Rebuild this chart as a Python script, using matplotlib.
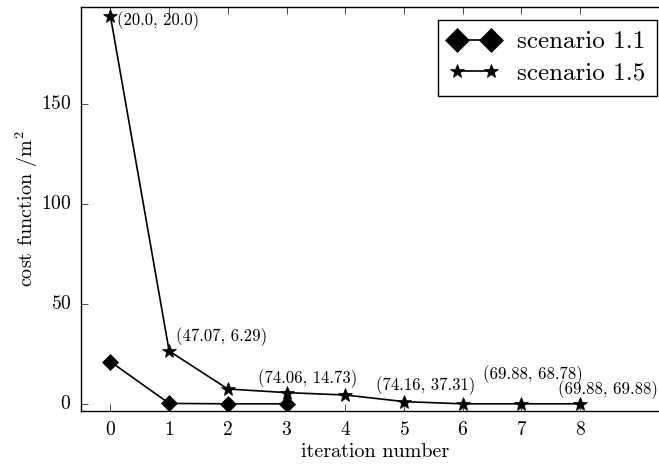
import numpy as np
import matplotlib
matplotlib.use("Agg")
import matplotlib.pyplot as plt
from matplotlib.lines import Line2D

plt.style.use("classic")
plt.rcParams["font.family"] = "serif"
plt.rcParams["font.serif"] = ["cmr10"]
plt.rcParams["mathtext.fontset"] = "cm"
plt.rcParams["axes.formatter.use_mathtext"] = True

# Data
iter_11 = [0, 1, 2, 3]
cost_11 = [21.2, 0.3, 0.1, 0.1]
iter_15 = [0, 1, 2, 3, 4, 5, 6, 7, 8]
cost_15 = [194.0, 26.5, 7.5, 5.7, 4.5, 1.2, 0.1, 0.1, 0.1]

# point labels (text, x, y of label)
label_txt = ["(20.0, 20.0)", "(47.07, 6.29)", "(74.06, 14.73)",
             "(74.16, 37.31)", "(69.88, 68.78)", "(69.88, 69.88)"]
label_x = [0.12, 1.12, 2.52, 4.53, 6.34, 7.63]
label_y = [191.6, 33.7, 12.8, 9.2, 14.8, 7.0]

fig = plt.figure(figsize=(6.59, 4.66), dpi=100, facecolor="white")
ax = fig.add_axes([0.123, 0.118, 0.891, 0.867])

ax.plot(iter_11, cost_11, color="black", linewidth=1.2, marker="D",
        markersize=8.5, label="scenario 1.1")
ax.plot(iter_15, cost_15, color="black", linewidth=1.2, marker="*",
        markersize=10, label="scenario 1.5")

for t, x, y in zip(label_txt, label_x, label_y):
    ax.text(x, y, t, fontsize=12, ha="left", va="center")

ax.set_xlim(-0.5, 9.5)
ax.set_ylim(-3.5, 198.5)
ax.set_xticks(range(9))
ax.set_yticks([0, 50, 100, 150])
ax.tick_params(axis="both", labelsize=14, direction="in", length=5, pad=7)
ax.tick_params(axis="y", right=False)
ax.set_xlabel("iteration number", fontsize=14.5, labelpad=3)
ax.set_ylabel("cost function /m$^2$", fontsize=14.5, labelpad=1)

handles = [
    Line2D([], [], color="black", linewidth=1.2, marker="D", markersize=12),
    Line2D([], [], color="black", linewidth=1.2, marker="*", markersize=10),
]
leg = ax.legend(handles, ["scenario 1.1", "scenario 1.5"], loc="upper left",
                bbox_to_anchor=(0.665, 0.958), bbox_transform=fig.transFigure,
                numpoints=2, fontsize=18, handlelength=1.95, handletextpad=0.75,
                labelspacing=0.35, borderpad=0.45,
                fancybox=False, frameon=True, borderaxespad=0)
leg.get_frame().set_edgecolor("black")

fig.savefig("out.png", dpi=100, facecolor="white")
